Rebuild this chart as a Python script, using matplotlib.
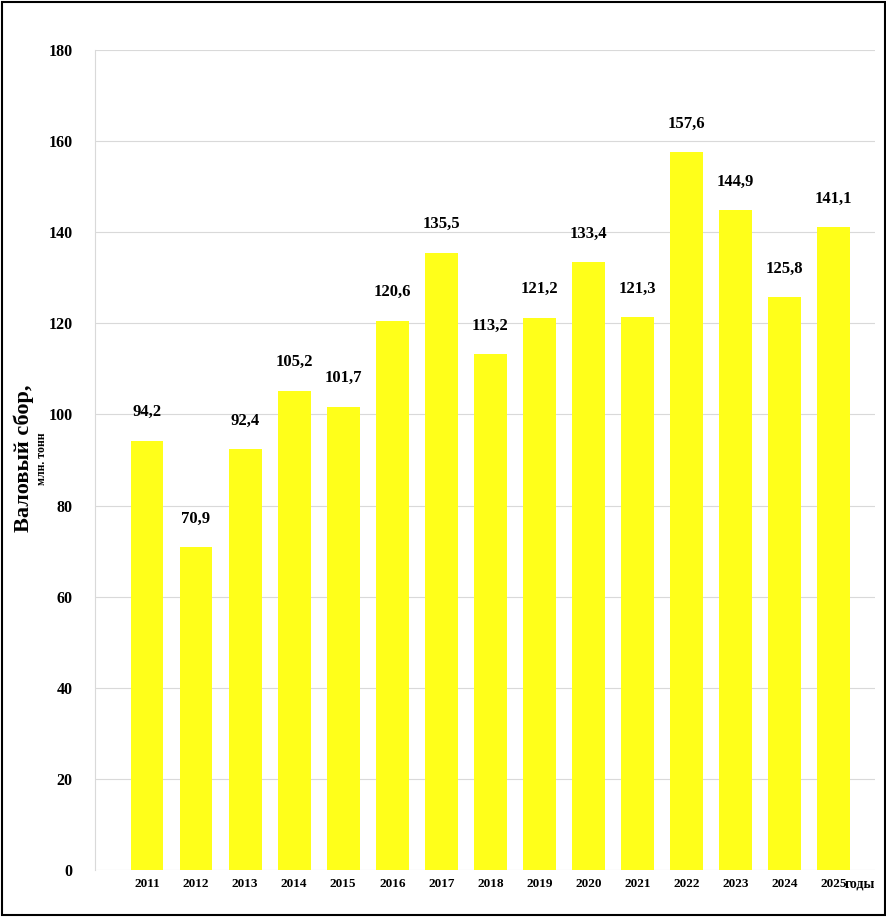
import matplotlib.pyplot as plt
import numpy as np

years = ['2011', '2012', '2013', '2014', '2015', '2016', '2017', '2018',
         '2019', '2020', '2021', '2022', '2023', '2024', '2025']
values = [94.2, 70.9, 92.4, 105.2, 101.7, 120.6, 135.5, 113.2,
          121.2, 133.4, 121.3, 157.6, 144.9, 125.8, 141.1]
labels = ['94,2', '70,9', '92,4', '105,2', '101,7', '120,6', '135,5', '113,2',
          '121,2', '133,4', '121,3', '157,6', '144,9', '125,8', '141,1']

plt.rcParams['font.family'] = ['Liberation Serif', 'DejaVu Serif']
plt.rcParams['font.weight'] = 'bold'

fig = plt.figure(figsize=(8.87, 9.17), dpi=100)
ax = fig.add_axes([95/887, 47/917, 780/887, 820/917])

x = np.arange(len(years))
ax.bar(x, values, width=0.67, color='#FFFF1A', zorder=2)
for xi, v, l in zip(x, values, labels):
    ax.text(xi, v + 4.5, l, ha='center', va='bottom', fontsize=12, fontweight='bold')

ax.set_ylim(0, 180)
ax.set_xlim(-1.06, 14.84)
ax.set_yticks(range(0, 181, 20))
ax.set_xticks(x)
ax.set_xticklabels(years, fontsize=9.5, fontweight='bold')
ax.tick_params(axis='y', labelsize=11.5, length=0, pad=16)
ax.tick_params(axis='x', length=0, pad=6)
ax.grid(axis='y', color='#d9d9d9', linewidth=0.8, zorder=0)
for s in ['top', 'right', 'bottom']:
    ax.spines[s].set_visible(False)
ax.spines['left'].set_color('#d9d9d9')
fig.text(845/887, 1 - 884/917, 'годы', ha='left', va='center', fontsize=10, fontweight='bold')

fig.text(14/887, 0.5, 'Валовый сбор,', rotation=90, ha='left', va='center',
         fontsize=16, fontweight='bold')
fig.text(36/887, 0.5, 'млн. тонн', rotation=90, ha='left', va='center',
         fontsize=8.5, fontweight='bold')

fig.patches.append(plt.Rectangle((0.002, 0.002), 0.996, 0.996, transform=fig.transFigure,
                                 fill=False, edgecolor='black', linewidth=1.5))
fig.savefig('out.png', dpi=100)
